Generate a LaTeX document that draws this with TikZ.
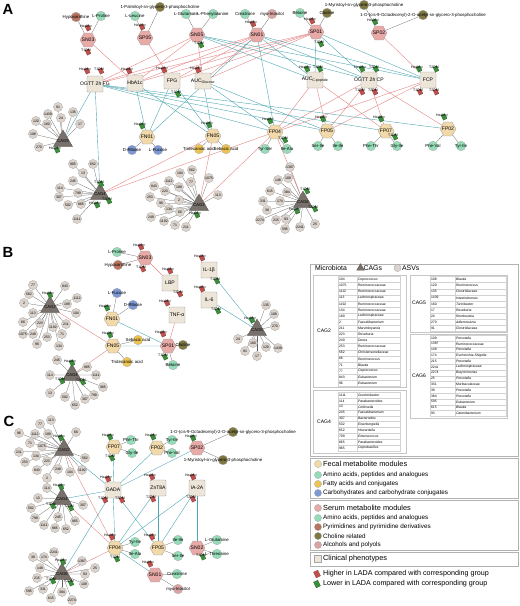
\documentclass[tikz,border=0pt]{standalone}
\usepackage{fontspec}
\setmainfont{Liberation Sans}
\usetikzlibrary{shapes.geometric}

\definecolor{serumc}{HTML}{E8AAA7}
\definecolor{fecalc}{HTML}{F2D9AA}
\definecolor{clinc}{HTML}{ECE5D8}
\definecolor{aminoc}{HTML}{94DDB8}
\definecolor{fattyc}{HTML}{EDC450}
\definecolor{carbc}{HTML}{7E98D6}
\definecolor{pyric}{HTML}{B9735E}
\definecolor{cholc}{HTML}{807842}
\definecolor{alcc}{HTML}{D9A3A3}
\definecolor{asvc}{HTML}{DCD3CC}
\definecolor{cagc}{HTML}{78706B}
\definecolor{posc}{HTML}{E58282}
\definecolor{negc}{HTML}{4AA6B0}
\definecolor{hic}{HTML}{C0504D}
\definecolor{loc}{HTML}{3B8E3A}

\newcommand\fs[1]{\fontsize{#1}{#1}\selectfont}
\newcommand\ctr[1]{\makebox[0pt]{#1}}
% small group marker with its label
\newcommand\flagat[5]{\node[#2] (#1) at (#3,#4) {};\node[flaglab] (#1t) at (#3-2,#4-1.5) {#5};}

\pgfdeclarelayer{bg}
\pgfsetlayers{bg,main}

\begin{document}
\begin{tikzpicture}[
  x=0.5mm, y=-0.5mm,
  serum/.style={regular polygon, regular polygon sides=6, draw=gray!80, fill=serumc, minimum size=8mm, inner sep=0pt, font=\fs{7.2}},
  fecal/.style={serum, fill=fecalc},
  clin/.style={rectangle, rounded corners=1.2pt, draw=gray!80, fill=clinc, minimum size=8mm, inner sep=0pt, font=\fs{7.2}},
  met/.style={circle, draw=gray!70, minimum size=4.8mm, inner sep=0pt, font=\fs{6.2}},
  asv/.style={circle, draw=gray!70, fill=asvc, minimum size=4.6mm, inner sep=0pt, font=\fs{5}},
  cag/.style={regular polygon, regular polygon sides=3, draw=cagc!70!black, fill=cagc, minimum size=11mm, inner sep=0pt, font=\fs{6}},
  hi/.style={rectangle, fill=hic, draw=hic!60!black, line width=0.2pt, minimum width=2mm, minimum height=2.6mm, inner sep=0pt, rotate=25},
  lo/.style={hi, fill=loc, draw=loc!60!black},
  flaglab/.style={font=\fs{5}, inner sep=0pt},
  mem/.style={draw=gray!75!black, line width=0.35pt},
  upedge/.style={draw=posc, line width=0.55pt},
  downedge/.style={draw=negc, line width=0.55pt},
  panel/.style={font=\bfseries\fs{21}, inner sep=0pt},
  lbox/.style={draw=gray!60, line width=0.5pt},
  tbox/.style={draw=gray!45, line width=0.4pt},
  cell/.style={rectangle, draw=gray!35, line width=0.3pt, inner xsep=0.5mm, inner ysep=0pt, align=left, font=\fs{4.8}},
  cagname/.style={font=\fs{7.2}, inner sep=0pt},
  lgdot/.style={circle, draw=gray!70, minimum size=3.6mm, inner sep=0pt},
  lgtitle/.style={anchor=west, inner sep=0pt, font=\fs{10.5}},
  lgtext/.style={anchor=west, inner sep=0pt, font=\fs{9}}
]
\useasboundingbox (0,0) rectangle (520,606);

%%%%% A
\node[panel] (pA) at (8,9) {A};
\node[serum] (aSN03) at (88,40) {\ctr{SN03}};
\node[serum] (aSP05) at (145,38) {\ctr{SP05}};
\node[serum] (aSN05) at (197,35) {\ctr{SN05}};
\node[serum] (aSN01) at (257,35) {\ctr{SN01}};
\node[serum] (aSP01) at (316,32) {\ctr{SP01}};
\node[serum] (aSP02) at (379,33) {\ctr{SP02}};

\node[met, fill=pyric] (aHyp) at (76,17) {\ctr{Hypoxanthine}};
\node[met, fill=aminoc] (aPro) at (101,16) {\ctr{L-Proline}};
\node[met, fill=aminoc] (aLeu) at (135,16) {\ctr{L-Leucine}};
\node[met, fill=cholc] (aPalm) at (160,7) {\ctr{1-Palmitoyl-sn-glycero-3-phosphocholine}};
\node[met, fill=aminoc] (aGlu) at (186,14) {\ctr{L-Glutamate}};
\node[met, fill=aminoc] (aPhe) at (213,14) {\ctr{L-Phenylalanine}};
\node[met, fill=aminoc] (aCrea) at (245,14) {\ctr{Creatinine}};
\node[met, fill=alcc] (aMyo) at (272,14) {\ctr{myo-Inositol}};
\node[met, fill=aminoc] (aBet) at (300,13) {\ctr{Betaine}};
\node[met, fill=cholc] (aCho) at (327,13) {\ctr{Choline}};
\node[met, fill=cholc] (aMyr) at (364,5) {\ctr{1-Myristoyl-sn-glycero-3-phosphocholine}};
\node[met, fill=cholc] (aOcta) at (423,15) {\ctr{1-O-(cis-9-Octadecenyl)-2-O-acetyl-sn-glycero-3-phosphocholine}};

\node[clin] (aOGFG) at (95,84) {\ctr{OGTT 2h FG}};
\node[clin] (aHbA) at (135,83) {\ctr{HbA1c}};
\node[clin] (aFPG) at (172,81) {\ctr{FPG}};
\node[clin] (aAUCG) at (203,81) {\ctr{AUC\textsubscript{Glucose}}};
\node[clin] (aAUCC) at (315,80) {\ctr{AUC\textsubscript{C-peptide}}};
\node[clin] (aOGCP) at (369,80) {\ctr{OGTT 2h CP}};
\node[clin] (aFCP) at (428,80) {\ctr{FCP}};

\node[fecal] (aFN01) at (147,137) {\ctr{FN01}};
\node[fecal] (aFN05) at (213,136) {\ctr{FN05}};
\node[fecal] (aFP04) at (275,132) {\ctr{FP04}};
\node[fecal] (aFP05) at (327,131) {\ctr{FP05}};
\node[fecal] (aFP07) at (386,131) {\ctr{FP07}};
\node[fecal] (aFP02) at (448,129) {\ctr{FP02}};

\node[met, fill=carbc] (aRib) at (132,150) {\ctr{D-Ribose}};
\node[met, fill=carbc] (aFuc) at (158,150) {\ctr{L-Fucose}};
\node[met, fill=fattyc] (aTri) at (199,149) {\ctr{Tridecanoic acid}};
\node[met, fill=fattyc] (aSeb) at (226,149) {\ctr{Sebacic acid}};
\node[met, fill=aminoc] (aTyrSer) at (265,149) {\ctr{Tyr-Ser}};
\node[met, fill=aminoc] (aIleAla) at (287,149) {\ctr{Ile-Ala}};
\node[met, fill=aminoc] (aSerIle) at (318,146) {\ctr{Ser-Ile}};
\node[met, fill=aminoc] (aIleIle) at (338,146) {\ctr{Ile-Ile}};
\node[met, fill=aminoc] (aPheThr) at (371,146) {\ctr{Phe-Thr}};
\node[met, fill=aminoc] (aGlyIle) at (397,146) {\ctr{Gly-Ile}};
\node[met, fill=aminoc] (aPheVal) at (433,146) {\ctr{Phe-Val}};
\node[met, fill=aminoc] (aTyrIle) at (461,146) {\ctr{Tyr-Ile}};

\node[cag] (aCAG5) at (63,141) {\ctr{CAG5}};
\node[cag] (aCAG4) at (100,194) {\ctr{CAG4}};
\node[cag] (aCAG2) at (199,205) {\ctr{CAG2}};
\node[cag] (aCAG6) at (303,202) {\ctr{CAG6}};

\foreach \k/\x/\y in {91/58/107,1439/48/114,24/61/118,135/73/112,120/36/121,160/47/124,17/80/124,108/33/134,270/39/147}
  {\node[asv] (a5-\k) at (\x,\y) {\ctr{\k}};
   \begin{pgfonlayer}{bg}\draw[mem] (a5-\k) -- (aCAG5);\end{pgfonlayer}}
\foreach \k/\x/\y in {965/73/164,652/93/164,13/83/173,245/73/181,114/60/188,799/78/193,307/59/197,502/68/205,865/81/204,1111/77/219}
  {\node[asv] (a4-\k) at (\x,\y) {\ctr{\k}};
   \begin{pgfonlayer}{bg}\draw[mem] (a4-\k) -- (aCAG4);\end{pgfonlayer}}
\foreach \k/\x/\y in {104/180/173,562/192/170,1112/169/181,77/191/182,1075/209/178,843/154/186,223/165/191,189/179/187,253/150/197,2/179/200,96/161/203,113/218/195,134/169/209,66/180/212,249/151/217,1192/164/221,71/175/225,211/186/227}
  {\node[asv] (a2-\k) at (\x,\y) {\ctr{\k}};
   \begin{pgfonlayer}{bg}\draw[mem] (a2-\k) -- (aCAG2);\end{pgfonlayer}}
\foreach \k/\x/\y in {1387/290/167,109/288/178,148/278/180,384/287/192,615/270/191,174/280/201,331/263/201,38/267/210,215/276/220,2274/260/220,93/286/219,595/285/229,2241/300/227,25/315/224}
  {\node[asv] (a6-\k) at (\x,\y) {\ctr{\k}};
   \begin{pgfonlayer}{bg}\draw[mem] (a6-\k) -- (aCAG6);\end{pgfonlayer}}

\flagat{fa1}{hi}{88}{28}{Healthy}
\flagat{fa2}{hi}{88}{52}{T1DM}
\flagat{fa3}{hi}{142}{27}{Healthy}
\flagat{fa4}{lo}{201}{45}{T1DM}
\flagat{fa5}{hi}{253}{24}{Healthy}
\flagat{fa6}{hi}{312}{21}{Healthy}
\flagat{fa7}{lo}{321}{44}{T1DM}
\flagat{fa8}{lo}{375}{22}{Healthy}
\flagat{fa9}{hi}{87}{71}{Healthy}
\flagat{fa10}{hi}{101}{71}{T1DM}
\flagat{fa11}{hi}{129}{71}{Healthy}
\flagat{fa12}{hi}{164}{70}{Healthy}
\flagat{fa13}{lo}{178}{94}{T1DM}
\flagat{fa14}{hi}{198}{70}{Healthy}
\flagat{fa15}{lo}{307}{69}{Healthy}
\flagat{fa16}{lo}{320}{69}{T1DM}
\flagat{fa17}{lo}{362}{69}{Healthy}
\flagat{fa18}{lo}{376}{69}{T2DM}
\flagat{fa19}{hi}{362}{92}{T1DM}
\flagat{fa20}{hi}{375}{92}{T2DM}
\flagat{fa21}{lo}{419}{69}{Healthy}
\flagat{fa22}{lo}{436}{69}{T2DM}
\flagat{fa23}{hi}{420}{92}{T1DM}
\flagat{fa24}{hi}{436}{92}{T2DM}
\flagat{fa25}{lo}{142}{126}{Healthy}
\flagat{fa26}{lo}{209}{125}{Healthy}
\flagat{fa27}{lo}{270}{121}{Healthy}
\flagat{fa28}{lo}{285}{140}{T1DM}
\flagat{fa29}{lo}{323}{119}{Healthy}
\flagat{fa30}{lo}{381}{119}{Healthy}
\flagat{fa31}{lo}{395}{137}{T1DM}
\flagat{fa32}{lo}{444}{117}{Healthy}
\flagat{fa33}{lo}{57}{150}{Healthy}
\flagat{fa34}{lo}{101}{184}{T1DM}
\flagat{fa35}{lo}{109}{201}{T2DM}
\flagat{fa36}{lo}{97}{205}{Healthy}
\flagat{fa37}{lo}{197}{215}{Healthy}
\flagat{fa38}{lo}{307}{191}{T1DM}
\flagat{fa39}{lo}{315}{209}{T2DM}
\flagat{fa40}{lo}{297}{211}{Healthy}

\begin{pgfonlayer}{bg}
\foreach \a/\b in {aHyp/aSN03,aPro/aSN03,aLeu/aSP05,aPalm/aSP05,aGlu/aSN05,aPhe/aSN05,aCrea/aSN01,aMyo/aSN01,aBet/aSP01,aCho/aSP01,aMyr/aSP02,aOcta/aSP02,aRib/aFN01,aFuc/aFN01,aTri/aFN05,aSeb/aFN05,aTyrSer/aFP04,aIleAla/aFP04,aSerIle/aFP05,aIleIle/aFP05,aPheThr/aFP07,aGlyIle/aFP07,aPheVal/aFP02,aTyrIle/aFP02}
  \draw[mem] (\a) -- (\b);
\foreach \a/\b in {aSN03/aHbA,aSP05/aFPG,aSN05/aOGFG,aSN05/aHbA,aSN05/aAUCG,aSN01/aOGFG,aSN01/aHbA,aSN01/aFPG,aSN01/aAUCG,aSP01/aOGFG,aSP01/aHbA,aSP01/aFPG,aSP01/aAUCG,aSP02/aFCP,aAUCC/aFP04,aAUCC/aFP05,aAUCC/aFP07,aOGCP/aFP04,aOGCP/aFP05,aOGCP/aFP07,aOGCP/aFP02,aFCP/aFP04,aFCP/aFP05,aFN05/aCAG4,aFP04/aCAG4,aFN05/aCAG2,aFP04/aCAG2,aFP04/aCAG6}
  \draw[upedge] (\a) -- (\b);
\foreach \a/\b in {aSN05/aAUCC,aSN05/aOGCP,aSN05/aFCP,aSN01/aAUCC,aSN01/aOGCP,aSN01/aFCP,aSP01/aAUCC,aSP01/aOGCP,aSP01/aFCP,aSN01/aFP04,aSN01/aFN01,aOGFG/aCAG5,aOGFG/aCAG4,aOGFG/aFP04,aOGFG/aFP05,aOGFG/aFP07,aOGFG/aFP02,aHbA/aFN01,aHbA/aFN05,aFPG/aFN01,aFPG/aFN05,aAUCG/aFN05,aAUCG/aFP04,aAUCG/aFP05}
  \draw[downedge] (\a) -- (\b);
\end{pgfonlayer}

%%%%% B
\node[panel] (pB) at (8,252) {B};
\node[serum] (bSN03) at (145,258) {\ctr{SN03}};
\node[met, fill=aminoc] (bPro) at (117,252) {\ctr{L-Proline}};
\node[met, fill=pyric] (bHyp) at (118,265) {\ctr{Hypoxanthine}};
\node[clin] (bLBP) at (170,283) {\ctr{LBP}};
\node[clin] (bIL1) at (209,270) {\ctr{IL-1β}};
\node[clin] (bIL6) at (209,300) {\ctr{IL-6}};
\node[clin] (bTNF) at (177,315) {\ctr{TNF-α}};
\node[fecal] (bFN01) at (112,319) {\ctr{FN01}};
\node[met, fill=carbc] (bFuc) at (117,293) {\ctr{L-Fucose}};
\node[met, fill=carbc] (bRib) at (133,305) {\ctr{D-Ribose}};
\node[fecal] (bFN05) at (113,346) {\ctr{FN05}};
\node[met, fill=fattyc] (bSeb) at (138,340) {\ctr{Sebacic acid}};
\node[met, fill=fattyc] (bTri) at (127,362) {\ctr{Tridecanoic acid}};
\node[serum] (bSP01) at (168,346) {\ctr{SP01}};
\node[met, fill=cholc] (bCho) at (183,345) {\ctr{Choline}};
\node[met, fill=aminoc] (bBet) at (173,365) {\ctr{Betaine}};

\node[cag] (bCAG2) at (50,307) {\ctr{CAG2}};
\node[cag] (bCAG4) at (72,375) {\ctr{CAG4}};
\node[cag] (bCAG5) at (257,330) {\ctr{CAG5}};

\foreach \k/\x/\y in {77/33/285,843/65/286,562/29/294,2/24/303,113/33/313,1112/77/298,189/67/304,104/76/313,66/23/322,223/40/323,1075/23/334,249/33/334,1192/53/327,211/66/324,253/47/337,71/62/334,96/37/344,134/59/346}
  {\node[asv] (b2-\k) at (\x,\y) {\ctr{\k}};
   \begin{pgfonlayer}{bg}\draw[mem] (b2-\k) -- (bCAG2);\end{pgfonlayer}}
\foreach \k/\x/\y in {245/57/360,865/87/367,114/50/375,1111/96/375,965/103/387,13/50/393,799/94/395,502/65/397,307/85/399,652/75/405}
  {\node[asv] (b4-\k) at (\x,\y) {\ctr{\k}};
   \begin{pgfonlayer}{bg}\draw[mem] (b4-\k) -- (bCAG4);\end{pgfonlayer}}
\foreach \k/\x/\y in {135/266/305,108/274/314,270/275/326,24/238/339,160/253/343,120/266/347,1439/278/348,91/245/351,17/257/356}
  {\node[asv] (b5-\k) at (\x,\y) {\ctr{\k}};
   \begin{pgfonlayer}{bg}\draw[mem] (b5-\k) -- (bCAG5);\end{pgfonlayer}}

\flagat{fb1}{hi}{141}{247}{Healthy}
\flagat{fb2}{hi}{143}{269}{T1DM}
\flagat{fb3}{hi}{170}{271}{Healthy}
\flagat{fb4}{hi}{180}{294}{T2DM}
\flagat{fb5}{hi}{202}{258}{Healthy}
\flagat{fb6}{lo}{217}{281}{T1DM}
\flagat{fb7}{hi}{202}{289}{Healthy}
\flagat{fb8}{lo}{218}{311}{T2DM}
\flagat{fb9}{hi}{167}{303}{Healthy}
\flagat{fb10}{lo}{107}{308}{Healthy}
\flagat{fb11}{lo}{110}{335}{Healthy}
\flagat{fb12}{hi}{163}{334}{Healthy}
\flagat{fb13}{lo}{165}{357}{T1DM}
\flagat{fb14}{lo}{50}{295}{Healthy}
\flagat{fb15}{lo}{72}{363}{Healthy}
\flagat{fb16}{lo}{62}{381}{T1DM}
\flagat{fb17}{lo}{83}{382}{T2DM}
\flagat{fb18}{lo}{252}{320}{Healthy}

\begin{pgfonlayer}{bg}
\foreach \a/\b in {bPro/bSN03,bHyp/bSN03,bFuc/bFN01,bRib/bFN01,bSeb/bFN05,bTri/bFN05,bCho/bSP01,bBet/bSP01}
  \draw[mem] (\a) -- (\b);
\foreach \a/\b in {bSN03/bLBP,bTNF/bSP01,bCAG2/bFN05,bCAG4/bFN05}
  \draw[upedge] (\a) -- (\b);
\foreach \a/\b in {bFN01/bSP01,bFN05/bSP01,bIL1/bCAG5,bIL6/bCAG5}
  \draw[downedge] (\a) -- (\b);
\end{pgfonlayer}

%%%%% C
\node[panel] (pC) at (9,421) {C};
\node[fecal] (cFP07) at (114,447) {\ctr{FP07}};
\node[met, fill=aminoc] (cPheThr) at (131,440) {\ctr{Phe-Thr}};
\node[met, fill=aminoc] (cGlyIle) at (132,453) {\ctr{Gly-Ile}};
\node[fecal] (cFP02) at (157,448) {\ctr{FP02}};
\node[met, fill=aminoc] (cTyrIle) at (172,440) {\ctr{Tyr-Ile}};
\node[met, fill=aminoc] (cPheVal) at (172,453) {\ctr{Phe-Val}};
\node[serum] (cSP02) at (197,448) {\ctr{SP02}};
\node[met, fill=cholc] (cOcta) at (233,432) {\ctr{1-O-(cis-9-Octadecenyl)-2-O-acetyl-sn-glycero-3-phosphocholine}};
\node[met, fill=cholc] (cMyr) at (223,460) {\ctr{1-Myristoyl-sn-glycero-3-phosphocholine}};
\node[clin] (cGADA) at (113,490) {\ctr{GADA}};
\node[clin] (cZnT8A) at (158,488) {\ctr{ZnT8A}};
\node[clin] (cIA2A) at (197,488) {\ctr{IA-2A}};
\node[fecal] (cFP04) at (115,548) {\ctr{FP04}};
\node[met, fill=aminoc] (cTyrIle2) at (135,542) {\ctr{Tyr-Ile}};
\node[met, fill=aminoc] (cIleAla) at (135,554) {\ctr{Ile-Ala}};
\node[fecal] (cFP05) at (158,548) {\ctr{FP05}};
\node[met, fill=aminoc] (cIleIle) at (178,540) {\ctr{Ile-Ile}};
\node[met, fill=aminoc] (cSerIle) at (178,556) {\ctr{Ser-Ile}};
\node[serum] (cSN02) at (197,548) {\ctr{SN02}};
\node[met, fill=aminoc] (cGln) at (217,540) {\ctr{L-Glutamine}};
\node[met, fill=aminoc] (cThr) at (217,554) {\ctr{L-Threonine}};
\node[serum] (cSN01) at (155,575) {\ctr{SN01}};
\node[met, fill=aminoc] (cCrea) at (177,574) {\ctr{Creatinine}};
\node[met, fill=alcc] (cMyo) at (178,589) {\ctr{myo-Inositol}};

\node[cag] (cCAG2) at (64,450) {\ctr{CAG2}};
\node[cag] (cCAG4) at (62,499) {\ctr{CAG4}};
\node[cag] (cCAG6) at (62,574) {\ctr{CAG6}};

\foreach \k/\x/\y in {113/51/420,77/40/424,96/19/433,1112/35/434,189/48/434,66/76/432,71/30/443,1075/42/446,211/19/452,134/36/456,253/25/462,223/47/461,562/85/458,843/37/470,249/58/469,104/70/472,1192/82/470,2/47/478}
  {\node[asv] (c2-\k) at (\x,\y) {\ctr{\k}};
   \begin{pgfonlayer}{bg}\draw[mem] (c2-\k) -- (cCAG2);\end{pgfonlayer}}
\foreach \k/\x/\y in {114/47/488,13/38/498,307/83/505,502/31/508,799/35/518,1111/44/525,245/58/517,865/75/521,965/55/528,652/66/529}
  {\node[asv] (c4-\k) at (\x,\y) {\ctr{\k}};
   \begin{pgfonlayer}{bg}\draw[mem] (c4-\k) -- (cCAG4);\end{pgfonlayer}}
\foreach \k/\x/\y in {2241/54/552,174/44/557,38/33/557,148/40/568,1387/82/561,25/95/568,93/85/574,215/37/578,109/84/584,331/43/589,384/62/592,595/29/591,615/51/598,2274/72/600}
  {\node[asv] (c6-\k) at (\x,\y) {\ctr{\k}};
   \begin{pgfonlayer}{bg}\draw[mem] (c6-\k) -- (cCAG6);\end{pgfonlayer}}

\flagat{fc1}{lo}{110}{437}{Healthy}
\flagat{fc2}{lo}{112}{458}{T1DM}
\flagat{fc3}{lo}{153}{437}{Healthy}
\flagat{fc4}{lo}{193}{438}{Healthy}
\flagat{fc5}{hi}{108}{479}{Healthy}
\flagat{fc6}{hi}{105}{500}{T1DM}
\flagat{fc7}{hi}{122}{500}{T2DM}
\flagat{fc8}{hi}{152}{477}{Healthy}
\flagat{fc9}{hi}{153}{499}{T2DM}
\flagat{fc10}{hi}{193}{477}{Healthy}
\flagat{fc11}{hi}{193}{499}{T2DM}
\flagat{fc12}{hi}{112}{537}{Healthy}
\flagat{fc13}{lo}{117}{559}{T1DM}
\flagat{fc14}{hi}{152}{537}{Healthy}
\flagat{fc15}{lo}{203}{557}{T1DM}
\flagat{fc16}{hi}{150}{564}{Healthy}
\flagat{fc17}{lo}{61}{438}{Healthy}
\flagat{fc18}{lo}{61}{487}{Healthy}
\flagat{fc19}{lo}{53}{506}{T1DM}
\flagat{fc20}{lo}{71}{508}{T2DM}
\flagat{fc21}{lo}{63}{562}{Healthy}
\flagat{fc22}{lo}{53}{581}{T1DM}
\flagat{fc23}{lo}{71}{583}{T2DM}

\begin{pgfonlayer}{bg}
\foreach \a/\b in {cPheThr/cFP07,cGlyIle/cFP07,cTyrIle/cFP02,cPheVal/cFP02,cOcta/cSP02,cMyr/cSP02,cTyrIle2/cFP04,cIleAla/cFP04,cIleIle/cFP05,cSerIle/cFP05,cGln/cSN02,cThr/cSN02,cCrea/cSN01,cMyo/cSN01}
  \draw[mem] (\a) -- (\b);
\foreach \a/\b in {cCAG2/cFP04,cCAG4/cFP04,cCAG6/cFP04}
  \draw[upedge] (\a) -- (\b);
\foreach \a/\b in {cCAG2/cGADA,cCAG4/cGADA,cCAG6/cGADA,cGADA/cFP07,cGADA/cFP02,cGADA/cSP02,cGADA/cFP04,cGADA/cFP05,cZnT8A/cFP04,cZnT8A/cFP05,cIA2A/cFP04,cIA2A/cFP05,cIA2A/cSN02,cFP04/cSN01}
  \draw[downedge] (\a) -- (\b);
\end{pgfonlayer}

%%%%% legend: microbiota table
\draw[lbox] (310,264) rectangle (518,456);
\node[anchor=west, inner sep=0pt, font=\fs{9.8}] (lgMic) at (315,268.5) {Microbiota};
\node[cag, minimum size=4.4mm] (lgCag) at (360.5,268) {};
\node[anchor=west, inner sep=0pt, font=\fs{9.8}] (lgCagt) at (363.5,268.5) {CAGs};
\node[lgdot, fill=asvc] (lgAsv) at (397.5,268) {};
\node[anchor=west, inner sep=0pt, font=\fs{9.8}] (lgAsvt) at (402,268.5) {ASVs};

\draw[tbox] (313,275) rectangle (406,387);
\draw[tbox] (313,390) rectangle (406,453);
\draw[tbox] (410,275) rectangle (507,332);
\draw[tbox] (410,334) rectangle (507,418);
\node[cagname] (t2) at (324,331) {CAG2};
\node[cagname] (t4) at (324,422) {CAG4};
\node[cagname] (t5) at (419,303) {CAG5};
\node[cagname] (t6) at (419,376) {CAG6};

\foreach \k/\g [count=\i from 0] in {104/\textit{Coprococcus},1075/Ruminococcaceae,1112/Ruminococcaceae,113/Lachnospiraceae,1192/Ruminococcaceae,134/Ruminococcaceae,189/Lachnospiraceae,2/\textit{Faecalibacterium},211/\textit{Marvinbryantia},223/\textit{Roseburia},249/\textit{Dorea},253/Ruminococcaceae,562/Christensenellaceae,66/\textit{Ruminococcus},71/\textit{Blautia},77/\textit{Coprococcus},843/\textit{Eubacterium},96/\textit{Eubacterium}}
  {\node[cell, text width=8.5mm, minimum height=3.05mm] (n2-\i) at (347.5,279.5+6.1*\i) {\k};
   \node[cell, text width=20.5mm, minimum height=3.05mm] (g2-\i) at (378.5,279.5+6.1*\i) {\g};}
\foreach \k/\g [count=\i from 0] in {1111/\textit{Gordonibacter},114/\textit{Parabacteroides},13/\textit{Collinsella},245/\textit{Faecalibacterium},307/\textit{Bacteroides},502/\textit{Eisenbergiella},652/\textit{Howardella},799/\textit{Enterococcus},865/\textit{Parabacteroides},965/\textit{Coprobacillus}}
  {\node[cell, text width=8.5mm, minimum height=2.95mm] (n4-\i) at (347.5,395+5.9*\i) {\k};
   \node[cell, text width=20.5mm, minimum height=2.95mm] (g4-\i) at (378.5,395+5.9*\i) {\g};}
\foreach \k/\g [count=\i from 0] in {108/\textit{Blautia},120/\textit{Ruminococcus},135/Clostridiaceae,1439/\textit{Intestinimonas},160/\textit{Turicibacter},17/\textit{Roseburia},24/\textit{Romboutsia},270/\textit{Adlercreutzia},91/Clostridiaceae}
  {\node[cell, text width=11.5mm, minimum height=3.05mm] (n5-\i) at (442.5,279.5+6.1*\i) {\k};
   \node[cell, text width=24.5mm, minimum height=3.05mm] (g5-\i) at (480.5,279.5+6.1*\i) {\g};}
\foreach \k/\g [count=\i from 0] in {109/\textit{Prevotella},1387/Ruminococcaceae,148/\textit{Prevotella},174/\textit{Escherichia-Shigella},215/\textit{Prevotella},2241/Lachnospiraceae,2274/\textit{Butyricimonas},25/\textit{Prevotella},331/Muribaculaceae,38/\textit{Prevotella},384/\textit{Prevotella},595/\textit{Eubacterium},615/\textit{Blautia},93/\textit{Catenibacterium}}
  {\node[cell, text width=11.5mm, minimum height=2.9mm] (n6-\i) at (442.5,338+5.8*\i) {\k};
   \node[cell, text width=24.5mm, minimum height=2.9mm] (g6-\i) at (480.5,338+5.8*\i) {\g};}

%%%%% legend: modules
\draw[lbox] (310,458) rectangle (518,498);
\node[lgdot, fill=fecalc] (lf0) at (318,464) {};
\node[lgtitle] (lf0t) at (323,464) {Fecal metabolite modules};
\node[lgdot, fill=aminoc] (lf1) at (318,475) {};
\node[lgtext] (lf1t) at (323,475) {Amino acids, peptides and analogues};
\node[lgdot, fill=fattyc] (lf2) at (318,484) {};
\node[lgtext] (lf2t) at (323,484) {Fatty acids and conjugates};
\node[lgdot, fill=carbc] (lf3) at (318,493) {};
\node[lgtext] (lf3t) at (323,493) {Carbohydrates and carbohydrate conjugates};

\draw[lbox] (310,500) rectangle (518,550);
\node[lgdot, fill=serumc] (ls0) at (318,508) {};
\node[lgtitle] (ls0t) at (323,508) {Serum metabolite modules};
\node[lgdot, fill=aminoc] (ls1) at (318,518) {};
\node[lgtext] (ls1t) at (323,518) {Amino acids, peptides and analogues};
\node[lgdot, fill=pyric] (ls2) at (318,527) {};
\node[lgtext] (ls2t) at (323,527) {Pyrimidines and pyrimidine derivatives};
\node[lgdot, fill=cholc] (ls3) at (318,536) {};
\node[lgtext] (ls3t) at (323,536) {Choline related};
\node[lgdot, fill=alcc] (ls4) at (318,545) {};
\node[lgtext] (ls4t) at (323,545) {Alcohols and polyols};

\draw[lbox] (310,552) rectangle (518,566);
\node[rectangle, draw=gray!70, fill=clinc, minimum size=3.6mm, inner sep=0pt] (lc0) at (318,559) {};
\node[lgtitle] (lc0t) at (323,559) {Clinical phenotypes};

\node[hi, minimum width=2.4mm, minimum height=3.2mm] (lh) at (317,574) {};
\node[lgtext, font=\fs{10.2}] (lht) at (323,574) {Higher in LADA compared with corresponding group};
\node[lo, minimum width=2.4mm, minimum height=3.2mm] (ll) at (317,584) {};
\node[lgtext, font=\fs{10.2}] (llt) at (323,584) {Lower in LADA compared with corresponding group};
\end{tikzpicture}
\end{document}
